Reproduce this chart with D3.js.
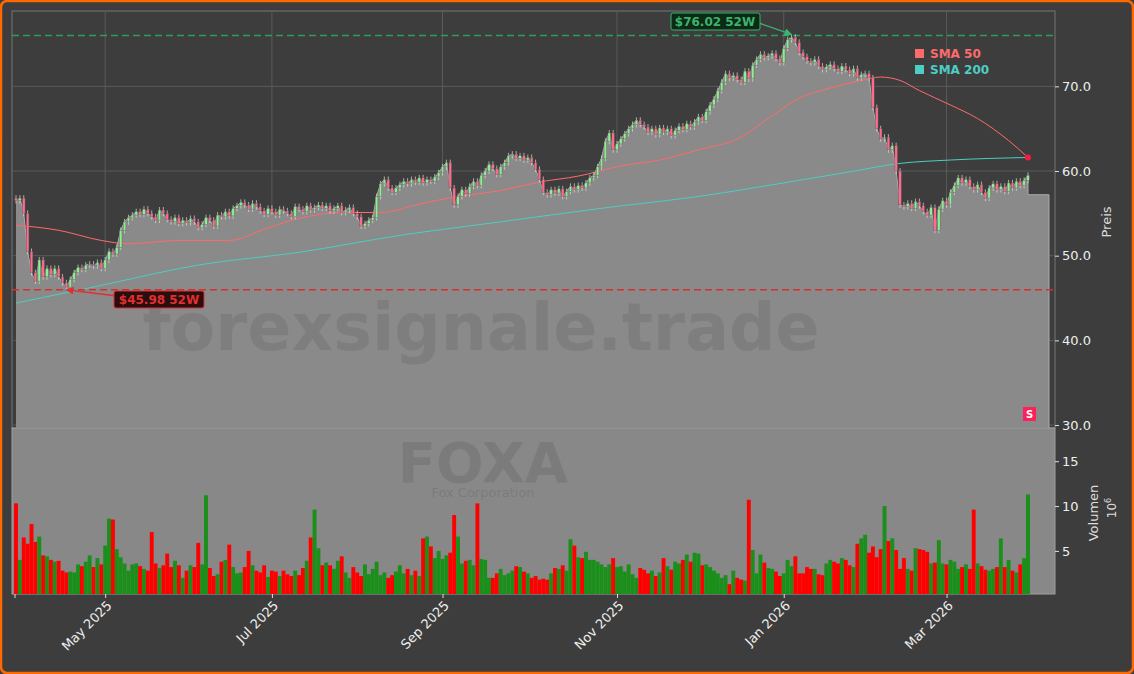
<!DOCTYPE html>
<html><head><meta charset="utf-8">
<script src="https://cdn.jsdelivr.net/npm/d3@7"></script>
<style>body{margin:0;background:#3d3d3d;}svg{display:block;font-family:"DejaVu Sans",sans-serif;}</style>
</head><body><svg id="c" width="1134" height="674"></svg>
<script>
const closes=[56.5,56.8,55.0,50.5,48.0,47.0,49.5,47.5,48.5,47.8,
48.5,47.5,46.8,46.3,47.2,48.0,48.6,48.4,48.9,49.0,
48.8,49.2,48.5,49.5,50.5,50.2,51.0,53.0,54.0,54.5,
54.8,55.2,54.9,55.5,55.0,54.6,54.2,55.4,55.0,54.3,
54.0,54.5,53.8,54.2,53.9,54.4,54.0,53.3,53.7,54.5,
54.2,53.5,54.8,54.6,55.2,54.7,55.6,55.9,56.3,56.0,
55.5,56.2,55.8,55.3,54.9,55.6,55.2,54.8,55.5,55.3,
55.0,54.6,55.8,55.5,55.2,55.9,55.4,55.7,56.0,55.6,
55.9,55.3,55.6,55.9,55.1,55.4,55.7,55.0,54.6,53.5,
53.8,54.2,54.5,57.0,58.5,59.0,58.0,57.5,58.0,58.4,
58.8,58.5,59.0,58.7,59.2,58.6,59.0,58.8,59.3,59.8,
60.5,61.0,58.0,56.0,57.0,57.8,57.3,58.2,58.8,58.3,
59.5,60.0,60.8,60.3,59.6,60.5,61.0,61.8,62.0,61.5,
61.8,61.3,61.6,61.0,60.2,59.0,57.5,57.2,57.8,57.4,
57.9,57.0,57.6,58.2,57.8,58.3,58.0,58.6,59.2,59.5,
60.5,61.5,63.5,64.5,62.5,63.2,63.8,64.4,65.0,65.5,
66.0,65.5,65.2,64.6,65.0,64.3,65.1,64.6,65.0,64.2,
64.8,65.3,64.9,65.6,65.2,65.8,66.4,66.0,67.0,67.8,
68.5,69.5,70.5,71.5,71.0,71.3,70.8,70.5,71.8,70.9,
72.5,73.2,73.8,73.4,73.6,73.9,73.3,72.8,74.5,75.5,
75.8,75.2,74.0,73.5,73.0,72.8,73.2,72.4,72.0,72.3,
72.6,72.1,71.8,72.4,72.0,71.5,72.1,71.0,71.4,71.5,
71.0,67.5,65.0,63.8,64.0,62.5,63.0,60.0,56.0,55.8,
56.2,55.6,56.4,55.9,55.2,54.8,55.7,53.0,55.5,56.5,
56.0,57.5,58.3,59.2,58.6,59.0,58.2,57.8,58.4,57.5,
56.8,58.0,58.5,57.8,58.2,57.6,58.6,58.0,58.8,58.3,58.9,59.5];
const volumes=[10.3,4.0,6.5,5.8,8.0,6.0,6.6,4.5,4.4,4.0,
3.8,3.9,2.8,2.6,2.7,2.6,3.5,3.3,3.8,4.5,
3.2,4.2,3.5,5.6,8.6,8.5,5.2,4.3,3.6,2.8,
3.5,3.6,3.3,3.0,2.8,7.1,3.6,3.1,3.4,4.7,
3.2,3.9,3.4,2.0,2.8,3.4,3.2,5.9,3.5,11.2,
3.1,2.2,2.4,3.8,4.0,5.7,3.2,2.5,2.6,3.2,
5.0,3.4,2.8,2.6,3.4,2.1,2.8,2.7,2.2,2.8,
2.4,2.2,2.8,2.3,3.1,3.9,6.5,9.6,5.3,3.4,
3.7,3.4,3.0,3.9,4.4,2.6,2.0,3.2,2.6,2.2,
3.5,2.4,3.0,3.8,2.3,2.6,2.0,2.3,2.7,3.4,
2.5,3.0,2.3,2.8,2.2,6.4,6.6,5.5,4.2,5.0,
4.1,4.5,4.8,9.0,6.6,3.6,3.9,4.0,3.4,10.3,
4.1,4.0,2.0,2.0,2.5,3.0,2.3,2.5,2.8,3.3,
3.2,2.7,2.5,2.0,2.2,1.8,1.9,1.8,2.5,3.1,
3.0,3.4,2.8,6.3,5.6,4.3,4.2,4.9,4.0,4.0,
3.8,3.5,3.2,3.5,4.2,3.2,3.3,2.7,3.5,2.4,
2.0,3.1,2.9,2.5,2.8,2.2,2.6,4.2,3.3,2.9,
3.8,3.6,4.0,4.6,3.8,4.8,4.7,3.4,3.5,3.2,
2.8,2.5,2.0,2.3,1.3,2.8,2.0,1.8,1.7,10.7,
5.1,2.5,4.6,3.7,3.1,3.0,2.7,2.2,2.5,4.0,
3.3,4.4,2.5,2.5,3.2,3.0,3.0,2.4,2.3,3.6,
4.0,3.8,3.6,4.2,4.0,3.4,3.2,5.8,6.4,6.8,
4.8,5.5,4.3,5.2,10.0,6.1,6.4,5.1,3.0,4.2,
3.0,2.8,5.3,5.2,5.1,4.9,3.6,3.7,6.2,3.6,
3.5,4.0,3.8,3.0,3.2,3.5,3.0,9.6,3.6,3.3,
2.9,2.8,3.0,3.2,6.4,3.2,4.0,2.8,2.6,3.5,4.2,11.3];
const sma50Idx=[0,11,22,29,42,55,65,73,84,94,104,114,125,135,145,156,166,176,187,194,202,210,218,223,228,233,241,248,256,261];
const sma50Val=[53.6,53.0,51.8,51.4,51.8,51.8,53.3,54.4,55.1,55.1,56.1,57.0,57.7,58.7,59.4,60.6,61.3,62.5,64.0,66.2,68.6,69.8,70.7,71.1,70.7,69.5,67.8,66.2,63.6,61.6];
const sma200Idx=[0,22,47,73,99,125,151,176,202,215,228,241,261];
const sma200Val=[44.4,46.5,48.9,50.4,52.4,54.0,55.6,57.0,58.9,59.9,60.9,61.3,61.6];
const priceTicks=[30,40,50,60,70];
const volTicks=[5,10,15];
const monthTicks=["2025-05","2025-07","2025-09","2025-11","2026-01","2026-03"];
const high52=76.02, low52=45.98;

const dates=[];{let d=new Date(2025,2,31);while(dates.length<closes.length){const w=d.getDay();if(w!==0&&w!==6)dates.push(new Date(d));d=new Date(d.getFullYear(),d.getMonth(),d.getDate()+1);}}
const bars=closes.map((c,i)=>{const o=i?closes[i-1]:c+0.3;return{i,d:dates[i],o,c,h:Math.max(o,c)+0.35,l:Math.min(o,c)-0.35,v:volumes[i]};});
const lowIdx=closes.indexOf(d3.min(closes)), highIdx=closes.indexOf(d3.max(closes));
const fmtM=d3.timeFormat("%Y-%m");
const tickIdx=monthTicks.map(m=>dates.findIndex(d=>fmtM(d)===m));

const svg=d3.select("#c");
svg.append("rect").attr("x",1).attr("y",1).attr("width",1132).attr("height",672).attr("rx",6).attr("fill","#3d3d3d").attr("stroke","#ff6a00").attr("stroke-width",2.5);
const L=12,R=1055,PT=11,PB=428,VB=594;
const x=d3.scaleLinear().domain([0,261]).range([16,1028]);
const y=d3.scaleLinear().domain([29.65,78.9]).range([PB,PT]);
const yv=d3.scaleLinear().domain([0.2,18.7]).range([VB,PB]);

svg.append("rect").attr("x",L).attr("y",PT).attr("width",R-L).attr("height",PB-PT).attr("fill","#3d3d3d").attr("stroke","#777");
svg.append("rect").attr("x",L).attr("y",PB).attr("width",R-L).attr("height",VB-PB).attr("fill","#888").attr("stroke","#a0a0a0");
const g=svg.append("g");
g.selectAll(".gy").data(priceTicks).join("line").attr("x1",L).attr("x2",R).attr("y1",d=>y(d)).attr("y2",d=>y(d)).attr("stroke","#5a5a5a");
g.selectAll(".gx").data(tickIdx).join("line").attr("x1",d=>x(d)).attr("x2",d=>x(d)).attr("y1",PT).attr("y2",PB).attr("stroke","#5a5a5a");
const areaPts=bars.map(b=>[x(b.i),y(b.c)]);
areaPts.push([x(bars.length-1),y(57.2)],[1049,y(57.2)]);
g.append("path").attr("d",d3.area().x(d=>d[0]).y0(PB).y1(d=>d[1])(areaPts)).attr("fill","#8a8a8a");
g.append("path").attr("d",d3.line()(areaPts)).attr("fill","none").attr("stroke","#aaa").attr("stroke-width",1);
g.append("line").attr("x1",1049).attr("x2",1049).attr("y1",y(57.2)).attr("y2",PB).attr("stroke","#aaa");
svg.append("text").attr("x",481).attr("y",350).attr("text-anchor","middle").attr("font-size",65).attr("font-weight","bold").attr("fill","#000").attr("opacity",0.08).text("forexsignale.trade");
svg.append("text").attr("x",483).attr("y",482).attr("text-anchor","middle").attr("font-size",56).attr("font-weight","bold").attr("fill","#000").attr("opacity",0.09).text("FOXA");
svg.append("text").attr("x",483).attr("y",497).attr("text-anchor","middle").attr("font-size",13).attr("fill","#000").attr("opacity",0.09).text("Fox Corporation");
const sline=d3.line().curve(d3.curveMonotoneX);
g.append("path").attr("d",sline(sma200Idx.map((i,k)=>[x(i),y(sma200Val[k])]))).attr("fill","none").attr("stroke","#4ecdc4").attr("stroke-width",1);
g.append("path").attr("d",sline(sma50Idx.map((i,k)=>[x(i),y(sma50Val[k])]))).attr("fill","none").attr("stroke","#ff6b6b").attr("stroke-width",1);
g.append("line").attr("x1",L).attr("x2",R).attr("y1",y(high52)).attr("y2",y(high52)).attr("stroke","#2e9e5a").attr("stroke-width",1.5).attr("stroke-dasharray","7,4");
g.append("line").attr("x1",L).attr("x2",R).attr("y1",y(low52)).attr("y2",y(low52)).attr("stroke","#d43030").attr("stroke-width",1.5).attr("stroke-dasharray","7,4");
const cw=2.6;
g.selectAll(".w").data(bars).join("line").attr("x1",d=>x(d.i)).attr("x2",d=>x(d.i)).attr("y1",d=>y(d.h)).attr("y2",d=>y(d.l)).attr("stroke","#ddd").attr("stroke-width",0.7);
g.selectAll(".b").data(bars).join("rect").attr("x",d=>x(d.i)-cw/2).attr("width",cw)
 .attr("y",d=>y(Math.max(d.o,d.c))).attr("height",d=>Math.max(0.8,Math.abs(y(d.o)-y(d.c))))
 .attr("fill",d=>d.c>=d.o?"#90ee90":"#ff6b8b").attr("stroke","#555").attr("stroke-width",0.4);
g.selectAll(".v").data(bars).join("rect").attr("x",d=>x(d.i)-1.95).attr("width",3.9).attr("y",d=>yv(d.v)).attr("height",d=>VB-yv(d.v))
 .attr("fill",d=>d.c>=d.o?"#1a8f1a":"#ff0000");
const defs=svg.append("defs");
[["ag","#3cb371"],["ar","#e03030"]].forEach(([id,c])=>defs.append("marker").attr("id",id).attr("viewBox","0 0 10 10").attr("refX",9).attr("refY",5).attr("markerWidth",6).attr("markerHeight",6).attr("orient","auto").append("path").attr("d","M0,0L10,5L0,10z").attr("fill",c));
const hx=x(highIdx), lx=x(lowIdx);
svg.append("line").attr("x1",760).attr("y1",y(high52)-12).attr("x2",hx).attr("y2",y(high52)-1).attr("stroke","#3cb371").attr("stroke-width",1.3).attr("marker-end","url(#ag)");
svg.append("rect").attr("x",671).attr("y",13).attr("width",89).attr("height",17).attr("rx",2).attr("fill","#0d2a14").attr("stroke","#3cb371");
svg.append("text").attr("x",715).attr("y",26).attr("text-anchor","middle").attr("font-size",12).attr("font-weight","bold").attr("fill","#3cb371").text("$76.02 52W");
svg.append("line").attr("x1",115).attr("y1",y(low52)+6).attr("x2",lx).attr("y2",y(low52)).attr("stroke","#e03030").attr("stroke-width",1.3).attr("marker-end","url(#ar)");
svg.append("rect").attr("x",114).attr("y",291).attr("width",90).attr("height",17).attr("rx",2).attr("fill","#2a0d0d").attr("stroke","#e03030");
svg.append("text").attr("x",159).attr("y",304).attr("text-anchor","middle").attr("font-size",12).attr("font-weight","bold").attr("fill","#e03030").text("$45.98 52W");
[["SMA 50","#ff6b6b",54],["SMA 200","#4ecdc4",70]].forEach(([t,c,yy])=>{svg.append("rect").attr("x",915).attr("y",yy-5).attr("width",9).attr("height",9).attr("fill",c);svg.append("text").attr("x",930).attr("y",yy+4).attr("font-size",12).attr("font-weight","bold").attr("fill",c).text(t);});
svg.append("circle").attr("cx",x(261)).attr("cy",y(sma50Val[sma50Val.length-1])).attr("r",3).attr("fill","#ff1744");
svg.append("rect").attr("x",1023).attr("y",407).attr("width",13).attr("height",14).attr("fill","#ff1f5a");
svg.append("text").attr("x",1029.5).attr("y",418).attr("text-anchor","middle").attr("font-size",10).attr("font-weight","bold").attr("fill","#fff").text("S");
const ap=svg.append("g").attr("transform",`translate(${R},0)`).call(d3.axisRight(y).tickValues(priceTicks).tickFormat(d3.format(".1f")).tickSize(4));
const av=svg.append("g").attr("transform",`translate(${R},0)`).call(d3.axisRight(yv).tickValues(volTicks).tickSize(4));
const mlab=d3.timeFormat("%b %Y");
const ax=svg.append("g").attr("transform",`translate(0,${VB})`).call(d3.axisBottom(x).tickValues(tickIdx).tickFormat(i=>mlab(dates[i])).tickSize(4));
[ap,av,ax].forEach(a=>{a.select(".domain").remove();a.selectAll("line").attr("stroke","#ddd");a.selectAll("text").attr("fill","#eee").attr("font-size",13).attr("font-family","DejaVu Sans");});
ax.selectAll("text").attr("text-anchor","end").attr("dx","-0.3em").attr("dy","0.5em").attr("transform","rotate(-45)");
svg.append("line").attr("x1",L+3).attr("x2",L+3).attr("y1",VB).attr("y2",VB+4).attr("stroke","#ddd");
svg.append("text").attr("transform","translate(1111,222) rotate(-90)").attr("text-anchor","middle").attr("font-size",13).attr("fill","#ddd").text("Preis");
svg.append("text").attr("transform","translate(1098,513) rotate(-90)").attr("text-anchor","middle").attr("font-size",13).attr("fill","#ddd").text("Volumen");
svg.append("text").attr("transform","translate(1116,508) rotate(-90)").attr("text-anchor","middle").attr("font-size",12).attr("fill","#ddd").text("10").append("tspan").attr("font-size",8).attr("dy",-5).text("6");
</script></body></html>
